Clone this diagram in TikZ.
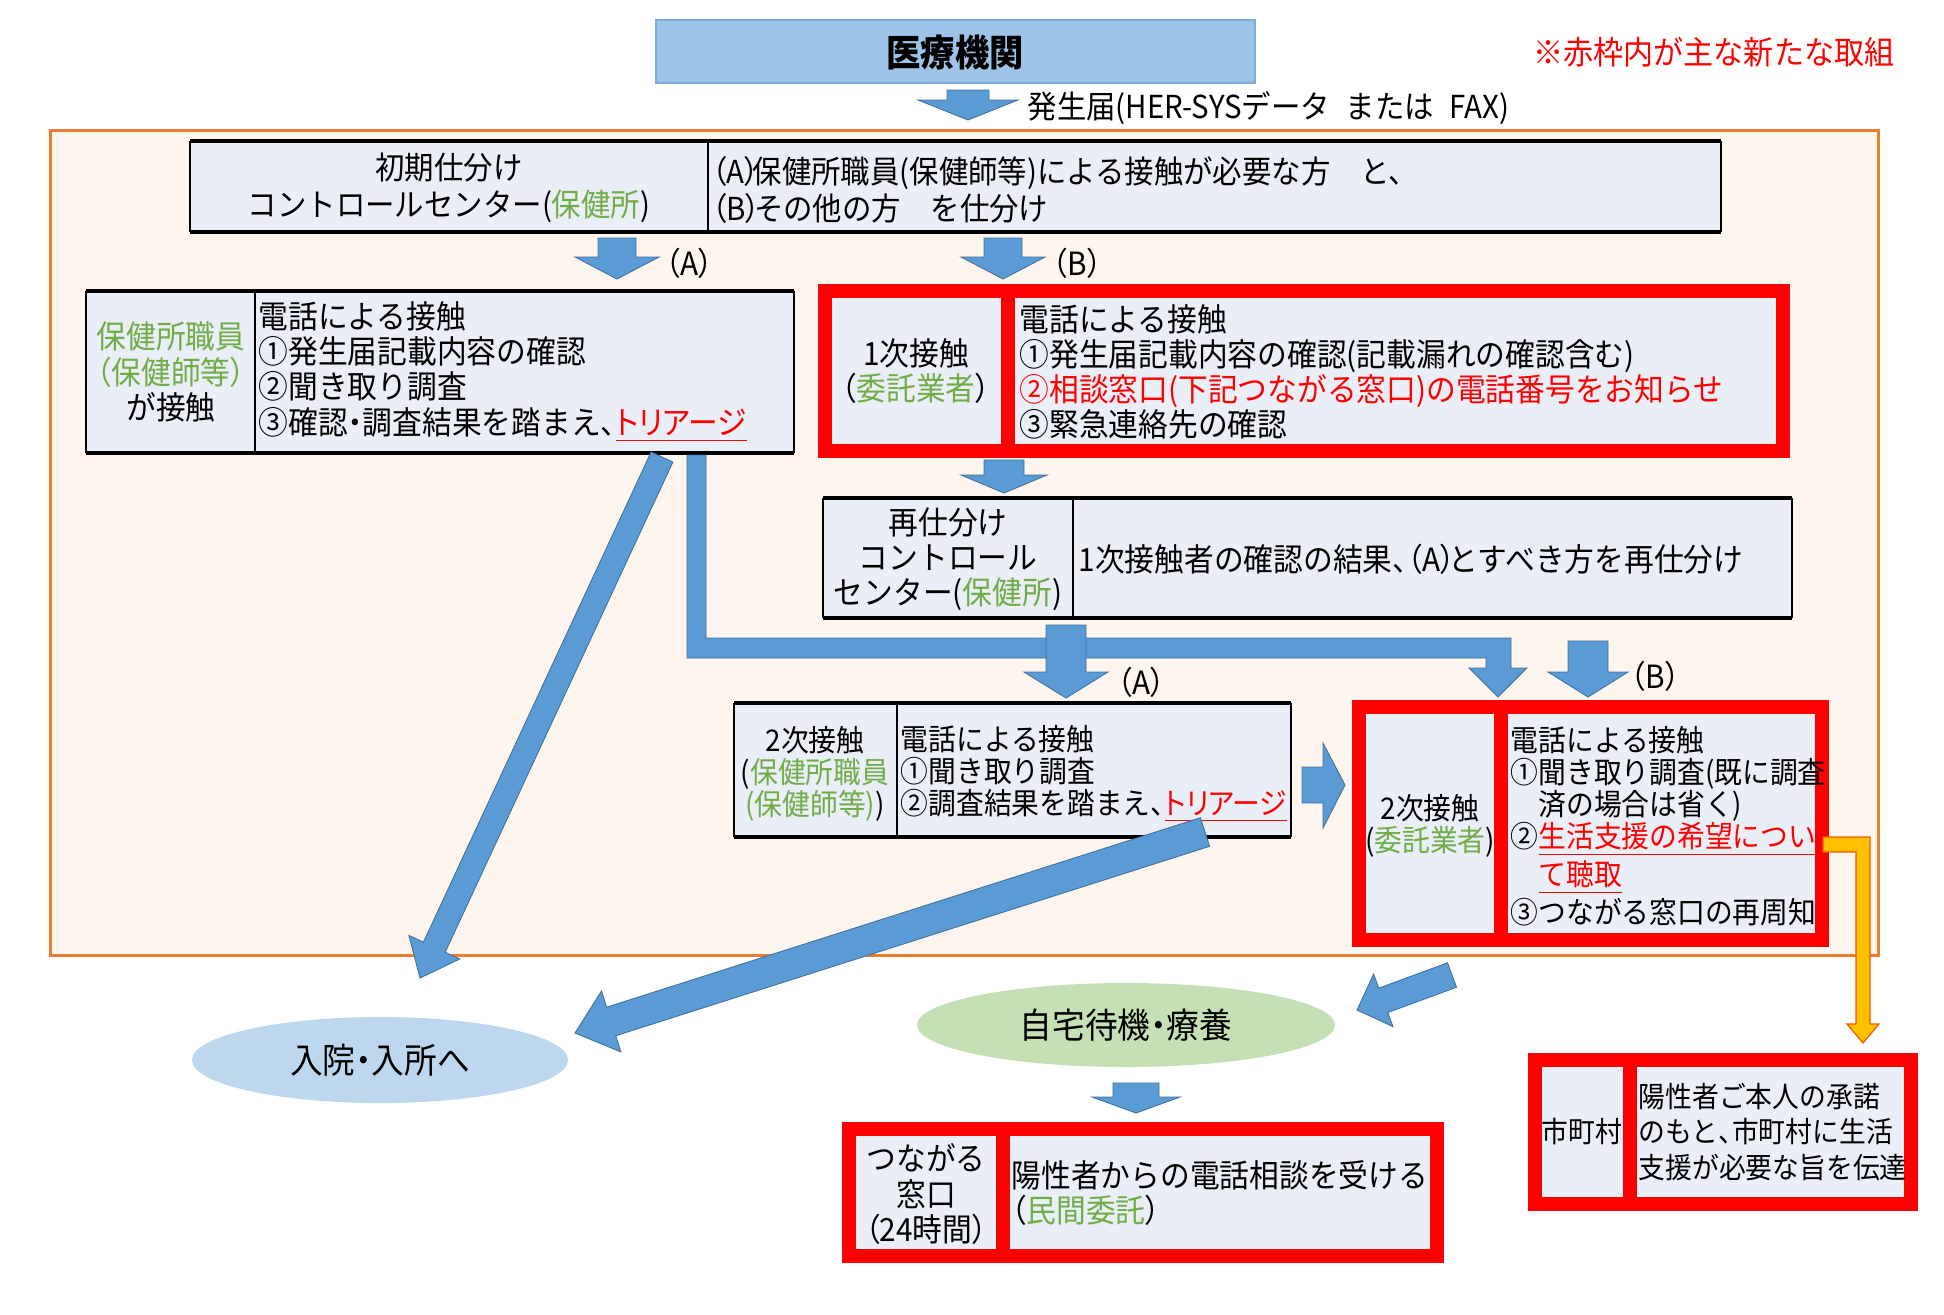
\documentclass[tikz,border=0pt]{standalone}
\usepackage{fontspec}
\setmainfont{Noto Sans CJK JP}[FakeStretch=0.93]
\usetikzlibrary{calc,shapes.geometric}
\definecolor{abl}{HTML}{5B9BD5}
\definecolor{abd}{HTML}{41719C}
\definecolor{cellbg}{RGB}{233,238,247}
\definecolor{framebg}{RGB}{253,245,238}
\definecolor{frameor}{HTML}{ED7D31}
\definecolor{grn}{HTML}{70AD47}
\definecolor{rd}{HTML}{FF0000}
\definecolor{ttlbg}{HTML}{9DC3E6}
\definecolor{ttlbd}{HTML}{7FA9D8}
\definecolor{elb}{HTML}{BDD7EE}
\definecolor{elg}{HTML}{C5E0B4}
\definecolor{yel}{HTML}{FFC000}
\definecolor{yelbd}{HTML}{F05A00}
\newcommand{\gtx}[1]{\textcolor{grn}{#1}}
\newcommand{\rtx}[1]{\textcolor{rd}{#1}}
\newcommand{\pal}[1]{{\addfontfeature{RawFeature=+palt}#1}}
\newcommand{\rul}[1]{\textcolor{rd}{\underline{#1}}}
\newcommand{\lp}{\pal{（}}
\newcommand{\rp}{\pal{）}}
\newcommand{\rpt}{\pal{）}\hspace{-0.2em}}
\newcommand{\tou}{\pal{、}}
\newcommand{\nkg}{\pal{・}}
\newcommand{\bodyfont}{\fontsize{9.1pt}{10pt}\selectfont}
\newcommand{\tightfont}{\fontsize{8.5pt}{9.1pt}\selectfont}
\newcommand{\initfont}{\fontsize{9pt}{10.5pt}\selectfont}
\newcommand{\smallfont}{\fontsize{8.2pt}{10pt}\selectfont}
\newcommand{\bigfont}{\fontsize{10pt}{12pt}\selectfont}
\newcommand{\titlefont}{\fontsize{10.5pt}{12pt}\selectfont\bfseries}
\newcommand{\notefont}{\fontsize{9.2pt}{11pt}\selectfont}
% black bordered two-cell box: x1 y1 x2 y2 xdivider
\newcommand{\blkbox}[5]{%
  \fill[cellbg] (#1,#2) rectangle (#3,#4);
  \draw[line width=0.2mm] (#1,#2) -- (#1,#4) (#3,#2) -- (#3,#4) (#5,#2) -- (#5,#4);
  \draw[line width=0.4mm] (#1,#2) -- (#3,#2) (#1,#4) -- (#3,#4);}
% red bordered two-cell box (outer edges)
\newcommand{\redbox}[5]{%
  \draw[fill=cellbg, draw=rd, line width=1.4mm] ({#1+7},{#2+7}) rectangle ({#3-7},{#4-7});
  \draw[rd, line width=1.4mm] (#5,{#2+7}) -- (#5,{#4-7});}
% vertical down block arrow: cx top headstart tip shafthalf headhalf
\newcommand{\darrow}[6]{%
  \draw[barrow] ({#1-#5},#2) -- ({#1+#5},#2) -- ({#1+#5},#3) -- ({#1+#6},#3) -- (#1,#4) -- ({#1-#6},#3) -- ({#1-#5},#3) -- cycle;}
% diagonal block arrow: tail tip shafthalf headhalf headlength
\newcommand{\dgarrow}[5]{%
  \coordinate (dgS) at #1; \coordinate (dgT) at #2;
  \coordinate (dgH) at ($(dgT)!#5!(dgS)$);
  \draw[barrow] ($(dgS)!#3!90:(dgT)$) -- ($(dgH)!#3!-90:(dgS)$) -- ($(dgH)!#4!-90:(dgS)$) -- (dgT) -- ($(dgH)!#4!90:(dgS)$) -- ($(dgH)!#3!90:(dgS)$) -- ($(dgS)!#3!-90:(dgT)$) -- cycle;}
\begin{document}
\begin{tikzpicture}[x=0.1mm, y=-0.1mm, line join=miter,
  barrow/.style={fill=abl, draw=abd, line width=0.25pt},
  txt/.style={inner sep=0pt, font=\bodyfont, align=left, text=black},
  ctxt/.style={inner sep=0pt, font=\bodyfont, align=center, text=black}]
\useasboundingbox (0,0) rectangle (1944,1314);
\fill[white] (0,0) rectangle (1944,1314);

% title
\draw[fill=ttlbg, draw=ttlbd, line width=0.25mm] (656,20) rectangle (1255,83);
\node[font=\titlefont, inner sep=0pt] (med) at (955,52) {医療機関};
\node[anchor=east, font=\notefont, text=rd, inner sep=0pt] (note) at (1895,52) {※赤枠内が主な新たな取組};
\darrow{968}{90}{100}{120}{21}{50}
\node[txt, font=\initfont, anchor=west] (hassei) at (1027,108) {発生届(HER-SYSデータ\hspace{0.5em}または\hspace{0.5em}FAX)};

% orange frame
\draw[fill=framebg, draw=frameor, line width=0.3mm] (50,130) rectangle (1878,955);

% initial sorting
\blkbox{190}{141}{1721}{232}{708}
\node[ctxt, font=\initfont] (init1) at (449,188) {初期仕分け\\コントロールセンター(\gtx{保健所})};
\node[txt, font=\initfont, anchor=west] (init2) at (711,190) {\lp A\rpt 保健所職員(保健師等)による接触が必要な方　と、\\\lp B\rpt その他の方　を仕分け};
\darrow{617}{238}{257}{279}{19}{42}
\darrow{1003}{238}{257}{279}{19}{42}
\node[txt, anchor=west] (la1) at (665,263) {\lp A\rp};
\node[txt, anchor=west] (lb1) at (1052,263) {\lp B\rp};

% health center staff contact
\blkbox{86}{291}{794}{453}{255}
\node[ctxt] (hc1) at (171,372) {\gtx{保健所職員}\\\gtx{\lp 保健師等\rp}\\が接触};
\node[txt, anchor=west] (hc2) at (258,372) {電話による接触\\①発生届記載内容の確認\\②聞き取り調査\\③確認\nkg 調査結果を踏まえ\tou\rul{\pal{トリアージ}}};

% first contact (contractor)
\redbox{818}{284}{1790}{458}{1008}
\node[ctxt] (p1a) at (916,371) {1次接触\\\lp\gtx{委託業者}\rp};
\node[txt, anchor=west] (p1b) at (1019,372) {電話による接触\\①発生届記載内容の確認(記載漏れの確認含む)\\\rtx{②相談窓口(下記つながる窓口)の電話番号をお知らせ}\\③緊急連絡先の確認};
\darrow{1004}{460}{475}{493}{20}{43}

% re-sorting
\blkbox{823}{498}{1792}{618}{1073}
\node[ctxt] (rs1) at (948,559) {再仕分け\\コントロール\\センター(\gtx{保健所})};
\node[txt, anchor=west] (rs2) at (1078,559) {1次接触者の確認の結果\tou\lp A\rpt とすべき方を再仕分け};

% L-shaped arrow
\draw[barrow] (687,455) -- (706,455) -- (706,638) -- (1511,638) -- (1511,668) -- (1527,668) -- (1498,697) -- (1469,668) -- (1486,668) -- (1486,658) -- (687,658) -- cycle;
\darrow{1066}{625}{672}{698}{20}{42}
\node[txt, anchor=west] (la2) at (1117,682) {\lp A\rp};
\darrow{1588}{641}{672}{697}{20}{40}
\node[txt, anchor=west] (lb2) at (1630,676) {\lp B\rp};

% second contact (health center)
\blkbox{734}{703}{1291}{837}{897}
\node[ctxt, font=\tightfont] (s2a) at (815,774) {2次接触\\(\gtx{保健所職員}\\\gtx{(保健師等)})};
\node[txt, font=\tightfont, anchor=west] (s2b) at (900,774) {電話による接触\\①聞き取り調査\\②調査結果を踏まえ\tou\rul{\pal{トリアージ}}};
\draw[barrow] (1302,767) -- (1323,767) -- (1323,743) -- (1345,785) -- (1323,828) -- (1323,803) -- (1302,803) -- cycle;

% second contact (contractor)
\redbox{1352}{700}{1829}{947}{1501}
\node[ctxt, font=\tightfont] (s3a) at (1430,826) {2次接触\\(\gtx{委託業者})};
\node[txt, font=\tightfont, anchor=west] (s3b) at (1510,826) {電話による接触\\①聞き取り調査(既に調査\\\phantom{①}済の場合は省く)\\②\rul{生活支援の希望につい}\\\phantom{②}\rul{て聴取}\\③つながる窓口の再周知};

% yellow arrow
\draw[fill=yel, draw=yelbd, line width=0.35pt] (1823,837) -- (1870,837) -- (1870,1024) -- (1879,1024) -- (1863,1043) -- (1847,1024) -- (1856,1024) -- (1856,852) -- (1823,852) -- cycle;

% ellipses
\node[ellipse, fill=elb, minimum width=37.6mm, minimum height=8.6mm, inner sep=0pt, font=\bigfont] (hosp) at (380,1060) {入院\nkg 入所へ};
\node[ellipse, fill=elg, minimum width=41.8mm, minimum height=8.4mm, inner sep=0pt, font=\bigfont] (home) at (1126,1025) {自宅待機\nkg 療養};
\darrow{1136}{1083}{1097}{1113}{23}{44}

% tsunagaru window
\redbox{842}{1122}{1444}{1263}{1003}
\node[ctxt] (tw1) at (926,1194) {つながる\\窓口\\\lp 24時間\rp};
\node[txt, anchor=west] (tw2) at (1011,1193) {陽性者からの電話相談を受ける\\\lp\gtx{民間委託}\rp};

% municipality
\redbox{1528}{1053}{1918}{1211}{1630}
\node[ctxt, font=\smallfont] (mc1) at (1582,1131) {市町村};
\node[txt, font=\smallfont, anchor=west] (mc2) at (1638,1132) {陽性者ご本人の承諾\\のもと\tou 市町村に生活\\支援が必要な旨を伝達};

% diagonal arrows
\dgarrow{(662,457)}{(420,978)}{1.2mm}{2.8mm}{3.4mm}
\dgarrow{(1205,832)}{(575,1033)}{1.5mm}{3.2mm}{3.8mm}
\dgarrow{(1452,975)}{(1357,1010)}{1.3mm}{2.8mm}{2.8mm}
\end{tikzpicture}
\end{document}
